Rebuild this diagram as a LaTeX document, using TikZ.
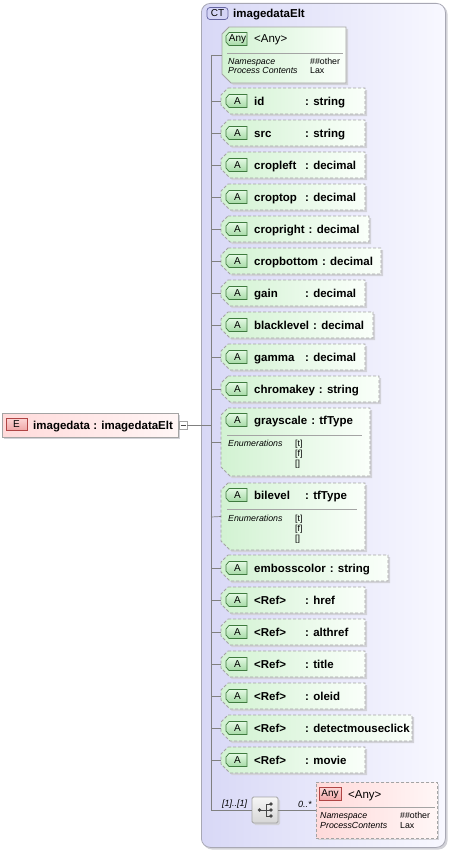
\documentclass[tikz,border=0pt]{standalone}
\usepackage{fontspec}
\usetikzlibrary{calc}
\setmainfont{Liberation Sans}
\definecolor{ctL}{HTML}{D8D8F6}
\definecolor{ctR}{HTML}{F8F8FF}
\definecolor{ctB}{HTML}{A8A8B4}
\definecolor{atL}{HTML}{D2F2D2}
\definecolor{atR}{HTML}{FAFFFA}
\definecolor{bxB}{HTML}{A4A4A4}
\definecolor{shd}{HTML}{D2D2D8}
\definecolor{lnC}{HTML}{808080}
\definecolor{icGT}{HTML}{E4FAE4}
\definecolor{icGD}{HTML}{A6DAA6}
\definecolor{icGB}{HTML}{3E7A3E}
\definecolor{elL}{HTML}{FFDADA}
\definecolor{elR}{HTML}{FFF6F6}
\definecolor{icRT}{HTML}{FCD6D6}
\definecolor{icRD}{HTML}{F0A8A8}
\definecolor{icRB}{HTML}{B04444}
\definecolor{sqT}{HTML}{F6F6F6}
\definecolor{sqD}{HTML}{D6D6D6}
\definecolor{ctIc}{HTML}{D4D4F6}
\definecolor{ctIcB}{HTML}{6464A0}
\tikzset{
  conn/.style={draw=lnC, line width=0.7pt},
  attrfill/.style={left color=atL, right color=atR},
  dashedborder/.style={draw=bxB, line width=0.8pt, dash pattern=on 3pt off 2pt},
  solidborder/.style={draw=bxB, line width=0.8pt},
  nm/.style={font=\fontsize{11.5}{13}\selectfont\bfseries, anchor=base west, inner sep=0pt},
  an/.style={font=\fontsize{11.5}{13}\selectfont, anchor=base west, inner sep=0pt},
  sm/.style={font=\fontsize{8.8}{10}\selectfont\itshape, anchor=base west, inner sep=0pt},
  smv/.style={font=\fontsize{8.8}{10}\selectfont, anchor=base west, inner sep=0pt},
  icontxt/.style={font=\fontsize{10}{11}\selectfont, inner sep=0pt, anchor=center},
}
\newcommand\attrtxt[2]{\setbox0=\hbox{#1}\ifdim\wd0<47pt\hbox to 47pt{#1\hfil}\else\box0\fi\hspace{4pt}: #2}
\newcommand\abox[6]{%
  \fill[shd] (#2+9+2,#3+2) -- (#4+2,#3+2) -- (#4+2,#5+2) -- (#2+9+2,#5+2) -- (#2+2,#5+2-9) -- (#2+2,#3+2+7) -- cycle;
  \path[attrfill,#6] (#2+7,#3) -- (#4,#3) -- (#4,#5) -- (#2+9,#5) -- (#2,#5-9) -- (#2,#3+7) -- cycle;
  \coordinate (#1) at (#2,{(#3+#5)/2});
}
\newcommand\gicon[3]{%
  \path[top color=icGT, bottom color=icGD, draw=icGB, line width=0.7pt] (229,#2-6.5) -- (247,#2-6.5) -- (247,#2+6.5) -- (229,#2+6.5) -- (226,#2+3) -- (226,#2-3) -- cycle;
  \node[icontxt] (#1-ic) at (237.5,#2) {#3};
}
\newcommand\attr[5]{%
  \abox{#1}{221}{#2-13}{#3}{#2+13}{dashedborder}
  \gicon{#1}{#2}{A}
  \node[nm] (#1-t) at (254,#2+4) {\attrtxt{#4}{#5}};
  \coordinate (#1-j) at (211,#2);
  \draw[conn] (#1-j) -- (#1);
}
\begin{document}
\begin{tikzpicture}[x=1pt,y=-1pt]
\useasboundingbox (0,0) rectangle (450,851);
% container
\fill[shd, rounded corners=9pt] (203,5) rectangle (447.5,849.5);
\node (ct) [draw=ctB, line width=0.8pt, left color=ctL, right color=ctR, rounded corners=9pt,
  minimum width=244pt, minimum height=844pt, anchor=north west, inner sep=0pt] at (201,3) {};
\node (ct-ic) [draw=ctIcB, fill=ctIc, line width=0.7pt, rounded corners=3pt, minimum width=21pt,
  minimum height=12pt, inner sep=0pt, font=\fontsize{10}{11}\selectfont] at (217.5,13.5) {CT};
\node[nm] (ct-t) at (233,18) {imagedataElt};
% tree line
\coordinate (anyt-j) at (211,55);
\coordinate (seq-j) at (211,810);
\coordinate (elem-j) at (211,425);
\draw[conn] (anyt-j) -- (seq-j);
% element
\fill[shd] (4,415) rectangle (180,439);
\node (elem) [draw=bxB, line width=0.8pt, left color=elL, right color=elR, minimum width=176pt,
  minimum height=24pt, anchor=north west, inner sep=0pt] at (2,413) {};
\node (elem-ic) [draw=icRB, top color=icRT, bottom color=icRD, line width=0.7pt, minimum width=21pt,
  minimum height=12pt, inner sep=0pt, font=\fontsize{10}{11}\selectfont] at (16.5,424) {E};
\node[nm] (elem-t) at (33,429) {imagedata : imagedataElt};
\node (minus) [draw=bxB, fill=white, line width=0.6pt, minimum size=8pt, inner sep=0pt] at (183,425) {};
\draw[draw=black!70, line width=0.6pt] ($(minus.west)+(1.8,0)$) -- ($(minus.east)+(-1.8,0)$);
\draw[conn] (minus.east) -- (elem-j);
% top any
\abox{anyt}{222}{27}{346}{83}{solidborder}
\draw[conn] (anyt-j) -- (anyt);
\gicon{anyt}{39}{Any}
\node[an] (anyt-t) at (254,43) {<Any>};
\draw[draw=bxB, line width=0.7pt] (227,53) -- (343,53);
\node[sm] (anyt-l1) at (228,64) {Namespace};
\node[sm] (anyt-l2) at (228,74) {Process Contents};
\node[smv] (anyt-v1) at (310,64) {\#\#other};
\node[smv] (anyt-v2) at (310,74) {Lax};
% simple attributes
\attr{id}{101}{365}{id}{string}
\attr{src}{133}{365}{src}{string}
\attr{cropleft}{165}{365}{cropleft}{decimal}
\attr{croptop}{197}{365}{croptop}{decimal}
\attr{cropright}{229}{369}{cropright}{decimal}
\attr{cropbottom}{261}{381}{cropbottom}{decimal}
\attr{gain}{293}{365}{gain}{decimal}
\attr{blacklevel}{325}{373}{blacklevel}{decimal}
\attr{gamma}{357}{365}{gamma}{decimal}
\attr{chromakey}{389}{379}{chromakey}{string}
% grayscale
\abox{gs}{221}{408}{370}{476}{dashedborder}
\coordinate (gs-j) at (211,442);
\draw[conn] (gs-j) -- (gs);
\gicon{gs}{420}{A}
\node[nm] (gs-t) at (254,424) {\attrtxt{grayscale}{tfType}};
\draw[draw=bxB, line width=0.7pt] (227,435) -- (362,435);
\node[sm] (gs-l) at (228,446) {Enumerations};
\node[smv] (gs-v1) at (295,446) {[t]};
\node[smv] (gs-v2) at (295,456) {[f]};
\node[smv] (gs-v3) at (295,466) {[]};
% bilevel
\abox{bl}{221}{483}{365}{550}{dashedborder}
\coordinate (bl-j) at (211,517);
\draw[conn] (bl-j) -- (bl);
\gicon{bl}{495}{A}
\node[nm] (bl-t) at (254,499) {\attrtxt{bilevel}{tfType}};
\draw[draw=bxB, line width=0.7pt] (227,509) -- (357,509);
\node[sm] (bl-l) at (228,521) {Enumerations};
\node[smv] (bl-v1) at (295,521) {[t]};
\node[smv] (bl-v2) at (295,531) {[f]};
\node[smv] (bl-v3) at (295,541) {[]};
% more attributes
\attr{emboss}{568}{388}{embosscolor}{string}
\attr{href}{600}{365}{<Ref>}{href}
\attr{althref}{632}{365}{<Ref>}{althref}
\attr{title}{664}{365}{<Ref>}{title}
\attr{oleid}{696}{365}{<Ref>}{oleid}
\attr{dmc}{728}{412}{<Ref>}{detectmouseclick}
\attr{movie}{760}{365}{<Ref>}{movie}
% sequence
\fill[shd, rounded corners=1.5pt] (254,799) rectangle (280,825);
\node (seq) [draw=bxB, line width=0.8pt, top color=sqT, bottom color=sqD, rounded corners=1.5pt,
  minimum size=26pt, inner sep=0pt] at (265,810) {};
\fill[black!72] (259.5,810) circle (1.9pt);
\fill[black!72] (271,804) circle (1.9pt);
\fill[black!72] (271,810) circle (1.9pt);
\fill[black!72] (271,816) circle (1.9pt);
\draw[black!72, line width=0.8pt] (259.5,810) -- (271,810) (271,804) -- (266,804) -- (266,816) -- (271,816);
\draw[conn] (seq-j) -- (seq.west);
\node[sm, font=\fontsize{9}{10}\selectfont\itshape] (seq-l1) at (222,806) {[1]..[1]};
% bottom any
\fill[shd] (318,784) rectangle (439,840);
\node (anyb) [draw=bxB, line width=0.8pt, dash pattern=on 3pt off 2pt, left color=elL, right color=elR,
  minimum width=121pt, minimum height=56pt, anchor=north west, inner sep=0pt] at (316,782) {};
\draw[conn] (seq.east) -- (anyb.west |- seq.east);
\node[sm, font=\fontsize{9}{10}\selectfont\itshape] (seq-l2) at (298,807) {0..*};
\node (anyb-ic) [draw=icRB, top color=icRT, bottom color=icRD, line width=0.7pt, minimum width=22pt,
  minimum height=13pt, inner sep=0pt, font=\fontsize{10}{11}\selectfont] at (330,794) {Any};
\node[an] (anyb-t) at (348,798) {<Any>};
\draw[draw=bxB, line width=0.7pt] (319,807) -- (435,807);
\node[sm] (anyb-l1) at (320,818) {Namespace};
\node[sm] (anyb-l2) at (320,828) {ProcessContents};
\node[smv] (anyb-v1) at (400,818) {\#\#other};
\node[smv] (anyb-v2) at (400,828) {Lax};
\end{tikzpicture}
\end{document}
